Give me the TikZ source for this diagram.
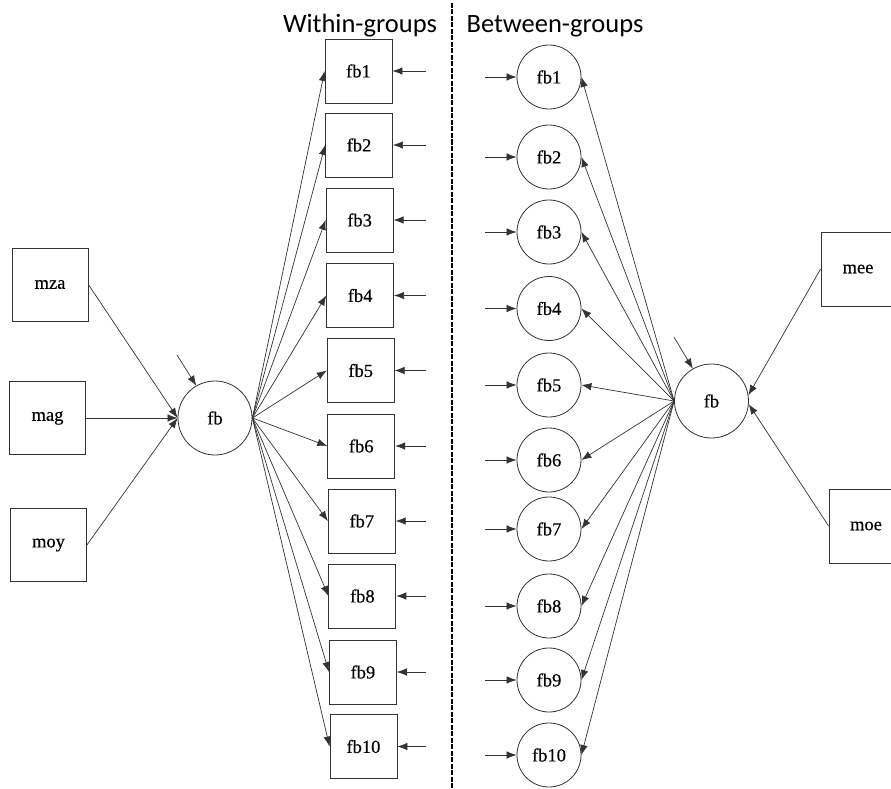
\documentclass[tikz,border=0pt]{standalone}
\usepackage{fontspec}
\setmainfont{Liberation Serif}
\newfontfamily\knotenfont{Liberation Serif}[FakeBold=0.4]
\newfontfamily\titelfont{Carlito}
\usetikzlibrary{arrows.meta}

\begin{document}
\begin{tikzpicture}[x=1pt, y=-1pt, >={Latex[length=10pt,width=7.5pt]},
    pfeil/.style={->, line width=0.7pt, black!80},
    beob/.style={rectangle, draw=black!80, line width=0.8pt, inner sep=0pt,
        minimum width=67pt, minimum height=64pt, font=\knotenfont\fontsize{18.5}{18.5}\selectfont},
    latent/.style={circle, draw=black!80, line width=0.8pt, inner sep=0pt,
        minimum size=#1, font=\knotenfont\fontsize{18.5}{18.5}\selectfont},
    titel/.style={anchor=base, font=\titelfont\fontsize{26.5}{26.5}\selectfont}]
    \useasboundingbox (0,0) rectangle (891,789);

    %Ueberschriften
    \node[titel] (tw) at (360,33) {Within-groups};
    \node[titel] (tb) at (555,33) {Between-groups};
    %Trennlinie
    \draw[line width=2pt, dash pattern=on 5pt off 1.5pt] (452,3) -- (452,789);

    %Within: Praediktoren
    \node[beob, minimum width=76pt, minimum height=73pt] (mza) at (50,284.5) {mza};
    \node[beob, minimum width=76pt, minimum height=73pt] (mag) at (47.5,418) {mag};
    \node[beob, minimum width=76pt, minimum height=73pt] (moy) at (48.5,545) {moy};
    \node[latent=74pt] (fbW) at (215,418) {fb};
    \coordinate (eW) at (177,355);
    \draw[pfeil] (eW) -- (fbW.120);
    \foreach \p in {mza, mag, moy} {
        \draw[pfeil] (\p.east) -- (fbW.west);
    }

    %Within: Indikatoren
    \foreach[count=\i] \y in {71,145,220,295.5,370.5,446,521,596,672,746.5} {
        \pgfmathsetmacro\x{358.5+(\i-1)*0.55}
        \node[beob] (w\i) at (\x,\y) {fb\i};
        \coordinate (ew\i) at (426,\y);
        \draw[pfeil] (ew\i) -- (w\i.east);
        \draw[pfeil] (fbW.east) -- (w\i.west);
    }

    %Between: Faktor und Praediktoren
    \node[latent=74pt] (fbB) at (711.5,401) {fb};
    \coordinate (eB) at (674,337);
    \draw[pfeil] (eB) -- (fbB.120);
    \node[beob, minimum width=74pt, minimum height=74pt] (mee) at (858,269) {mee};
    \node[beob, minimum width=74pt, minimum height=74pt] (moe) at (866,526) {moe};
    \draw[pfeil] (mee.west) -- (fbB.9);
    \draw[pfeil] (moe.west) -- (fbB.-5);

    %Between: Indikatoren
    \foreach[count=\i] \y in {77,157,232,308.5,385,460,529,606,680,755} {
        \node[latent=64pt] (b\i) at (549,\y) {fb\i};
        \coordinate (eb\i) at (485,\y);
        \draw[pfeil] (eb\i) -- (b\i.west);
        \draw[pfeil] (fbB.west) -- (b\i.east);
    }
\end{tikzpicture}
\end{document}
